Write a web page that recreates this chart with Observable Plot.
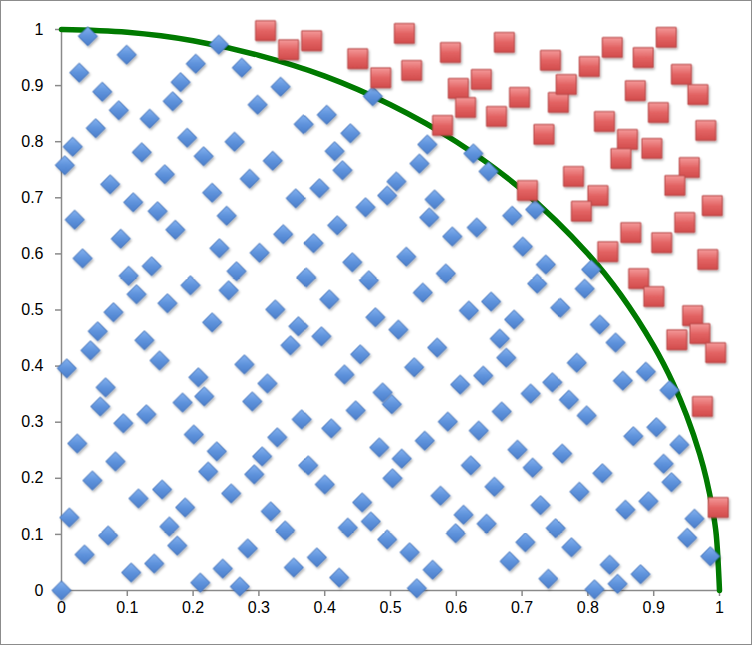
<!DOCTYPE html>
<html>
<head>
<meta charset="utf-8">
<script src="https://cdn.jsdelivr.net/npm/d3@7"></script>
<script src="https://cdn.jsdelivr.net/npm/@observablehq/plot@0.6"></script>
<style>
  body { margin: 0; background: #fff; }
  #chart svg { display: block; }
  #chart svg text { font-size: 16px; }
</style>
</head>
<body>
<div id="chart"></div>
<script>
// Axis ticks
const tickValues = [0, 0.1, 0.2, 0.3, 0.4, 0.5, 0.6, 0.7, 0.8, 0.9, 1];
const tickLabels = ["0", "0.1", "0.2", "0.3", "0.4", "0.5", "0.6", "0.7", "0.8", "0.9", "1"];

// Quarter-circle boundary
const curveX = [0, 0.1, 0.2, 0.3, 0.4, 0.5, 0.6, 0.7, 0.8, 0.85, 0.9, 0.93, 0.95, 0.97, 0.98, 0.99, 0.995, 1];
const curveY = [1, 0.995, 0.98, 0.954, 0.917, 0.866, 0.8, 0.714, 0.6, 0.527, 0.436, 0.368, 0.312, 0.243, 0.199, 0.141, 0.1, 0];

// Points inside the circle (blue diamonds), [x, y]
const insidePoints = [
  [0.040,0.988],[0.099,0.955],[0.027,0.923],[0.204,0.939],[0.181,0.906],[0.062,0.889],[0.169,0.872],[0.087,0.856],
  [0.134,0.841],[0.052,0.824],[0.017,0.791],[0.191,0.807],[0.005,0.758],[0.122,0.781],[0.216,0.774],[0.157,0.742],
  [0.074,0.724],[0.229,0.709],[0.109,0.692],[0.146,0.676],[0.020,0.661],[0.239,0.973],
  [0.274,0.932],[0.333,0.898],[0.298,0.866],[0.368,0.831],[0.403,0.848],[0.439,0.815],[0.263,0.800],[0.415,0.783],
  [0.321,0.766],[0.427,0.749],[0.286,0.734],[0.392,0.717],[0.356,0.699],[0.462,0.683],[0.251,0.668],[0.473,0.881],[0.495,0.704],
  [0.556,0.795],[0.544,0.761],[0.626,0.779],[0.649,0.747],[0.509,0.729],[0.567,0.697],[0.559,0.665],[0.720,0.679],[0.685,0.668],
  [0.090,0.627],[0.173,0.643],[0.032,0.592],[0.102,0.561],[0.137,0.578],[0.114,0.528],[0.161,0.512],[0.196,0.544],
  [0.240,0.610],[0.079,0.496],[0.055,0.462],[0.044,0.428],[0.008,0.396],[0.126,0.446],[0.149,0.410],[0.229,0.478],
  [0.208,0.380],[0.217,0.346],[0.067,0.362],[0.059,0.328],[0.184,0.335],[0.129,0.314],
  [0.337,0.635],[0.419,0.651],[0.301,0.602],[0.383,0.619],[0.442,0.585],[0.266,0.569],[0.372,0.558],[0.467,0.553],
  [0.254,0.535],[0.407,0.519],[0.325,0.501],[0.477,0.487],[0.360,0.471],[0.395,0.453],[0.348,0.437],[0.454,0.421],
  [0.278,0.403],[0.430,0.385],[0.313,0.369],[0.290,0.337],[0.488,0.353],[0.447,0.321],[0.502,0.332],
  [0.594,0.631],[0.631,0.647],[0.701,0.613],[0.524,0.595],[0.736,0.581],[0.584,0.565],[0.723,0.547],[0.549,0.531],
  [0.653,0.515],[0.619,0.499],[0.688,0.483],[0.758,0.504],[0.512,0.465],[0.666,0.449],[0.571,0.433],[0.676,0.415],
  [0.536,0.398],[0.641,0.383],[0.606,0.367],[0.746,0.371],[0.713,0.351],[0.669,0.319],
  [0.805,0.572],[0.795,0.538],[0.818,0.474],[0.842,0.442],[0.783,0.406],[0.853,0.374],[0.888,0.390],[0.924,0.357],
  [0.771,0.340],[0.798,0.312],
  [0.094,0.298],[0.024,0.262],[0.201,0.278],[0.236,0.248],[0.082,0.230],[0.047,0.196],[0.223,0.212],[0.117,0.164],
  [0.153,0.180],[0.188,0.148],[0.012,0.130],[0.164,0.114],[0.071,0.098],[0.176,0.080],[0.035,0.064],[0.141,0.048],
  [0.106,0.032],[0.211,0.014],[0,0],[0.245,0.039],
  [0.365,0.305],[0.328,0.273],[0.410,0.289],[0.305,0.239],[0.293,0.207],[0.375,0.223],[0.400,0.189],[0.483,0.255],
  [0.258,0.173],[0.318,0.141],[0.340,0.107],[0.457,0.157],[0.470,0.123],[0.435,0.112],[0.495,0.091],[0.283,0.075],
  [0.353,0.041],[0.388,0.059],[0.271,0.007],[0.422,0.023],[0.503,0.200],
  [0.587,0.301],[0.634,0.285],[0.552,0.267],[0.517,0.235],[0.693,0.251],[0.716,0.219],[0.622,0.223],[0.658,0.185],
  [0.576,0.169],[0.611,0.135],[0.646,0.119],[0.599,0.102],[0.728,0.152],[0.751,0.111],[0.529,0.068],[0.564,0.037],
  [0.540,0.004],[0.705,0.086],[0.681,0.052],[0.740,0.021],
  [0.869,0.275],[0.904,0.291],[0.939,0.260],[0.761,0.244],[0.915,0.226],[0.822,0.209],[0.927,0.193],[0.787,0.176],
  [0.892,0.159],[0.857,0.144],[0.962,0.128],[0.951,0.094],[0.775,0.077],[0.986,0.061],[0.833,0.046],[0.880,0.029],
  [0.845,0.012],[0.810,0.002]
];

// Points outside the circle (red squares), [x, y]
const outsidePoints = [
  [0.310,0.998],[0.345,0.964],[0.380,0.980],[0.450,0.948],[0.485,0.914],[0.521,0.993],[0.532,0.927],[0.579,0.829],
  [0.591,0.959],[0.603,0.895],[0.614,0.861],[0.638,0.911],[0.661,0.845],[0.673,0.977],[0.696,0.879],[0.733,0.813],
  [0.743,0.945],[0.755,0.870],[0.767,0.902],[0.708,0.713],[0.802,0.934],[0.837,0.968],[0.884,0.950],[0.919,0.986],
  [0.872,0.891],[0.942,0.920],[0.967,0.884],[0.907,0.852],[0.825,0.836],[0.860,0.804],[0.850,0.770],[0.897,0.788],
  [0.979,0.820],[0.778,0.738],[0.954,0.754],[0.932,0.722],[0.815,0.704],[0.790,0.676],[0.989,0.686],[0.947,0.656],
  [0.865,0.638],[0.912,0.620],[0.830,0.604],[0.982,0.590],[0.877,0.556],[0.900,0.524],[0.959,0.490],[0.970,0.458],
  [0.935,0.447],[0.994,0.424],[0.974,0.328],[0.998,0.148]
];

const curve = curveX.map((x, i) => ({x, y: curveY[i]}));
const inside = insidePoints.map(([x, y]) => ({x, y}));
const outside = outsidePoints.map(([x, y]) => ({x, y}));
const fmt = d => tickLabels[tickValues.indexOf(d)];

const axisGray = "#8a8a8a";

const plot = Plot.plot({
  width: 752,
  height: 645,
  marginLeft: 61,
  marginRight: 33,
  marginTop: 29,
  marginBottom: 55,
  x: {domain: [0, 1]},
  y: {domain: [0, 1]},
  style: {
    fontFamily: "'Liberation Sans', Arial, Helvetica, sans-serif",
    fontSize: "16px",
    background: "#fff",
    color: "#000",
    overflow: "visible"
  },
  marks: [
    Plot.axisX({ticks: tickValues, tickFormat: fmt, tickSize: 6, tickPadding: 5, stroke: axisGray, strokeWidth: 1.5, fill: "#000", label: null, fontSize: 16}),
    Plot.axisY({ticks: tickValues, tickFormat: fmt, tickSize: 6, tickPadding: 12, stroke: axisGray, strokeWidth: 1.5, fill: "#000", label: null, fontSize: 16}),
    Plot.ruleX([0], {stroke: axisGray, strokeWidth: 1.5}),
    Plot.ruleY([0], {stroke: axisGray, strokeWidth: 1.5}),
    Plot.line(curve, {x: "x", y: "y", curve: "catmull-rom", stroke: "#007a00", strokeWidth: 5.5}),
    Plot.dot(inside, {x: "x", y: "y", symbol: "diamond2", r: 8.6, fill: "url(#blueGrad)", stroke: "#3f6fb8", strokeWidth: 1}),
    Plot.dot(outside, {x: "x", y: "y", symbol: "square", r: 11.2, fill: "url(#redGrad)", stroke: "#b84545", strokeWidth: 1})
  ]
});

// gradients, shadow and outer frame
const ns = "http://www.w3.org/2000/svg";
const defs = document.createElementNS(ns, "defs");
defs.innerHTML = `
  <linearGradient id="blueGrad" x1="0" y1="0" x2="0" y2="1">
    <stop offset="0" stop-color="#84b2f0"/>
    <stop offset="0.5" stop-color="#5f93dc"/>
    <stop offset="1" stop-color="#4a7ecb"/>
  </linearGradient>
  <linearGradient id="redGrad" x1="0" y1="0" x2="0" y2="1">
    <stop offset="0" stop-color="#f49a9a"/>
    <stop offset="0.5" stop-color="#e36464"/>
    <stop offset="1" stop-color="#d24c4c"/>
  </linearGradient>
  <filter id="shadow" x="-50%" y="-50%" width="200%" height="200%">
    <feDropShadow dx="1.2" dy="1.8" stdDeviation="1.2" flood-color="#000" flood-opacity="0.3"/>
  </filter>`;
plot.insertBefore(defs, plot.firstChild);
plot.querySelectorAll('g[aria-label="dot"]').forEach(g => g.setAttribute("filter", "url(#shadow)"));
plot.querySelectorAll("text").forEach(t => {
  t.setAttribute("font-size", "16");
  t.style.fontSize = "16px";
});
const frame = document.createElementNS(ns, "rect");
frame.setAttribute("x", 0.5);
frame.setAttribute("y", 0.5);
frame.setAttribute("width", 751);
frame.setAttribute("height", 644);
frame.setAttribute("fill", "none");
frame.setAttribute("stroke", "#8c8c8c");
plot.appendChild(frame);

document.getElementById("chart").appendChild(plot);
</script>
</body>
</html>
